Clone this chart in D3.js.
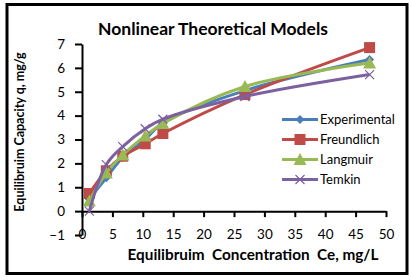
<!DOCTYPE html>
<html><head><meta charset="utf-8">
<script src="https://cdn.jsdelivr.net/npm/d3@7"></script>
<style>body{margin:0;background:#fff}svg{display:block}text{font-family:Lato,"Open Sans",sans-serif}</style>
</head><body>
<svg id="c" width="411" height="280"></svg>
<script>
const ce = [1.2, 4.0, 6.7, 10.4, 13.3, 26.8, 47.3];
const experimental = [0.5, 1.4, 2.25, 3.0, 3.7, 5.05, 6.35];
const freundlich = [0.74, 1.69, 2.3, 2.82, 3.25, 4.88, 6.85];
const langmuir = [0.42, 1.6, 2.35, 3.15, 3.67, 5.22, 6.2];
const temkin = [0.0, 1.95, 2.7, 3.45, 3.85, 4.8, 5.72];
const seriesNames = ["Experimental", "Freundlich", "Langmuir", "Temkin"];
const xTicks = [0,5,10,15,20,25,30,35,40,45,50];
const yTicks = [-1,0,1,2,3,4,5,6,7];

const colors = ["#4A7EBB", "#BE4B48", "#98B954", "#7D60A0"];
const markers = ["diamond", "square", "triangle", "cross"];
const series = [experimental, freundlich, langmuir, temkin];

const svg = d3.select("#c");
svg.append("rect").attr("x",0).attr("y",0).attr("width",411).attr("height",280).attr("fill","#fff");
svg.append("rect").attr("x",7).attr("y",4.5).attr("width",400).attr("height",269)
  .attr("fill","none").attr("stroke","#000").attr("stroke-width",3);

const x = d3.scaleLinear().domain([0,50]).range([82,386]);
const y = d3.scaleLinear().domain([-1,7]).range([235,44]);

// y axis
const ya = svg.append("g").attr("transform","translate(82,0)")
  .call(d3.axisLeft(y).tickValues(yTicks).tickSize(7).tickSizeOuter(0).tickPadding(10).tickFormat(d3.format("d")));
ya.select(".domain").attr("stroke","#000").attr("stroke-width",2);
ya.selectAll(".tick line").attr("stroke","#000").attr("stroke-width",2);
ya.selectAll(".tick text").attr("font-size",13.5).attr("fill","#000").attr("font-family","Lato,sans-serif");

// x axis at y=0
const xa = svg.append("g").attr("transform",`translate(0,${y(0)})`)
  .call(d3.axisBottom(x).tickValues(xTicks).tickSize(6).tickSizeOuter(0).tickPadding(12));
xa.select(".domain").attr("stroke","#000").attr("stroke-width",2);
xa.selectAll(".tick line").attr("stroke","#000").attr("stroke-width",2);
xa.selectAll(".tick text").attr("font-size",13.5).attr("fill","#000").attr("font-family","Lato,sans-serif");

// lines
const line = d3.line().x((d,i)=>x(ce[i])).y(d=>y(d)).curve(d3.curveCatmullRom.alpha(0.5));

function drawMarker(g, type, cx, cy, color){
  if(type==="diamond"){
    g.append("path").attr("d",`M${cx},${cy-4.5}L${cx+4.5},${cy}L${cx},${cy+4.5}L${cx-4.5},${cy}Z`).attr("fill",color);
  } else if(type==="square"){
    g.append("rect").attr("x",cx-5.5).attr("y",cy-5.5).attr("width",11).attr("height",11).attr("fill",color);
  } else if(type==="triangle"){
    g.append("path").attr("d",`M${cx},${cy-6.5}L${cx+6.5},${cy+5.5}L${cx-6.5},${cy+5.5}Z`).attr("fill",color);
  } else {
    g.append("path").attr("d",`M${cx-4.5},${cy-4.5}L${cx+4.5},${cy+4.5}M${cx+4.5},${cy-4.5}L${cx-4.5},${cy+4.5}`)
      .attr("stroke",color).attr("stroke-width",1.2).attr("fill","none");
  }
}

series.forEach((s,k)=>{
  const g = svg.append("g");
  g.append("path").datum(s).attr("d",line).attr("fill","none").attr("stroke",colors[k]).attr("stroke-width",3);
  s.forEach((v,i)=>drawMarker(g, markers[k], x(ce[i]), y(v), colors[k]));
});

// legend
seriesNames.forEach((n,k)=>{
  const ly = 119.5 + k*20;
  const g = svg.append("g");
  g.append("line").attr("x1",282).attr("x2",318).attr("y1",ly).attr("y2",ly).attr("stroke",colors[k]).attr("stroke-width",3);
  drawMarker(g, markers[k], 300, ly, colors[k]);
  g.append("text").attr("x",320).attr("y",ly+4.5).attr("font-size",13).attr("fill","#000").text(n);
});

// title
svg.append("text").attr("x",213).attr("y",35).attr("text-anchor","middle")
  .attr("font-size",17.5).attr("font-weight","bold").attr("fill","#000").text("Nonlinear Theoretical Models");

// axis titles
svg.append("text").attr("x",253).attr("y",260).attr("text-anchor","middle")
  .attr("font-size",15.3).attr("font-weight","bold").attr("fill","#000").style("white-space","pre")
  .text("Equilibruim  Concentration  Ce, mg/L");
svg.append("text").attr("transform","translate(24,132) rotate(-90)").attr("text-anchor","middle")
  .attr("font-size",12.5).attr("font-weight","bold").attr("fill","#000")
  .text("Equilibruim Capacity q, mg/g");
</script>
</body></html>
